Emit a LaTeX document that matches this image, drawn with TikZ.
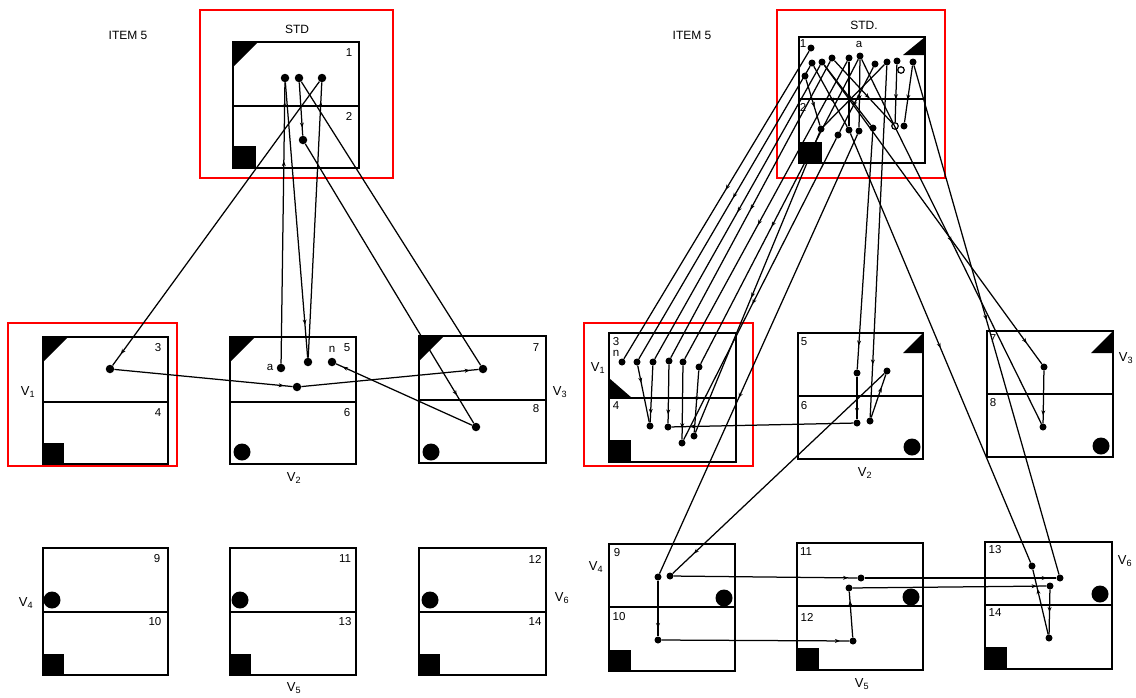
\documentclass[tikz,border=0pt]{standalone}
\usepackage{fontspec}
\setmainfont{Liberation Sans}
\usetikzlibrary{arrows.meta,decorations.markings}
\newcommand\cellbox[5]{\draw[boxline] (#1,#2) rectangle (#3,#4); \draw[boxline] (#1,#5) -- (#3,#5);}
\begin{document}
\begin{tikzpicture}[x=1pt,y=-1pt,
 boxline/.style={line width=1.5pt},
 frame/.style={draw=red,line width=1.6pt},
 dot/.style={circle,fill,inner sep=0pt,minimum size=8.5pt},
 sdot/.style={circle,fill,inner sep=0pt,minimum size=7pt},
 odot/.style={circle,draw,fill=white,line width=1.2pt,inner sep=0pt,minimum size=6.5pt},
 lbl/.style={inner sep=0pt,font=\fontsize{11.5}{13}\selectfont},
 vlb/.style={inner sep=0pt,font=\fontsize{13}{15}\selectfont},
 ttl/.style={inner sep=0pt,font=\fontsize{12}{14}\selectfont},
 ln/.style={line width=1.25pt},
 mk/.style={decoration={markings,mark=at position #1 with {\arrow{Stealth[length=5pt,width=4pt]}}},postaction={decorate}},
 mkk/.style 2 args={decoration={markings,mark=at position #1 with {\arrow{Stealth[length=5pt,width=4pt]}},mark=at position #2 with {\arrow{Stealth[length=5pt,width=4pt]}}},postaction={decorate}}
]
\useasboundingbox (0,0) rectangle (1136,697);
\fill[white] (0,0) rectangle (1136,697);

%================ LEFT PANEL ================
\node[ttl] (item1) at (128,35) {ITEM 5};
\draw[frame] (200,10) rectangle (393,178);
\node[ttl] (stdl) at (297,29) {STD};
\cellbox{233}{42}{359}{168}{106}
\fill (233,42) -- (258,42) -- (233,67) -- cycle;
\fill (233,146) rectangle (256,168);
\node[lbl] (l1) at (349,53) {1};
\node[lbl] (l2) at (349,116) {2};

% V1
\draw[frame] (8,323) rectangle (177,466);
\cellbox{43}{337}{168}{464}{402}
\fill (43,337) -- (68,337) -- (43,362) -- cycle;
\fill (43,443) rectangle (64,464);
\node[lbl] (l3) at (158,348) {3};
\node[lbl] (l4) at (158,413) {4};
\node[vlb] (lv1) at (28,392) {V\textsubscript{1}};
% V2
\cellbox{230}{337}{356}{464}{402}
\fill (230,337) -- (255,337) -- (230,362) -- cycle;
\fill (242,452) circle[radius=8.5pt];
\node[lbl] (l5) at (347,348) {5};
\node[lbl] (l6) at (347,413) {6};
\node[lbl] (la) at (270,367) {a};
\node[lbl] (ln1) at (332,349) {n};
\node[vlb] (lv2) at (294,478) {V\textsubscript{2}};
% V3
\cellbox{419}{336}{546}{463}{400}
\fill (419,336) -- (444,336) -- (419,361) -- cycle;
\fill (431,452) circle[radius=8.5pt];
\node[lbl] (l7) at (536,348) {7};
\node[lbl] (l8) at (536,409) {8};
\node[vlb] (lv3) at (560,392) {V\textsubscript{3}};
% V4
\cellbox{43}{548}{168}{675}{612}
\fill (52,600) circle[radius=8.5pt];
\fill (43,654) rectangle (64,675);
\node[lbl] (l9) at (157,559) {9};
\node[lbl] (l10) at (155,622) {10};
\node[vlb] (lv4) at (26,603) {V\textsubscript{4}};
% V5
\cellbox{230}{548}{356}{675}{612}
\fill (240,600) circle[radius=8.5pt];
\fill (230,654) rectangle (251,675);
\node[lbl] (l11) at (345,559) {11};
\node[lbl] (l13) at (345,622) {13};
\node[vlb] (lv5) at (294,688) {V\textsubscript{5}};
% V6
\cellbox{419}{548}{546}{675}{612}
\fill (430,600) circle[radius=8.5pt];
\fill (419,654) rectangle (440,675);
\node[lbl] (l12) at (535,559) {12};
\node[lbl] (l14) at (535,622) {14};
\node[vlb] (lv6) at (562,598) {V\textsubscript{6}};

% dots
\node[dot] (L1) at (285,78) {};
\node[dot] (L2) at (299,78) {};
\node[dot] (L3) at (322,78) {};
\node[dot] (L4) at (303,140) {};
\node[dot] (P1) at (110,369) {};
\node[dot] (Pa) at (281,368) {};
\node[dot] (Pm) at (308,362) {};
\node[dot] (Pn) at (332,362) {};
\node[dot] (Pl) at (297,387) {};
\node[dot] (Q7) at (483,369) {};
\node[dot] (Q8) at (476,427) {};

% connectors
\draw[ln,mkk={0.72}{0.93}] (Pa) -- (L1);
\draw[ln,mk=0.88] (L1) -- (Pm);
\draw[ln,mk=0.93] (Pm) -- (L3);
\draw[ln,mk=0.96] (L3) -- (P1);
\draw[ln,mk=0.95] (P1) -- (Pl);
\draw[ln,mk=0.95] (Pl) -- (Q7);
\draw[ln] (Q7) -- (L2);
\draw[ln,mk=0.85] (L2) -- (L4);
\draw[ln,mk=0.9] (L4) -- (Q8);
\draw[ln,mk=0.95] (Q8) -- (Pn);

%================ RIGHT PANEL ================
\node[ttl] (item2) at (692,35) {ITEM 5};
\draw[frame] (777,10) rectangle (945,178);
\node[ttl] (stdr) at (864,25) {STD.};
\cellbox{799}{37}{925}{163}{99}
\fill (925,37) -- (925,55) -- (903,55) -- cycle;
\fill (799,142) rectangle (822,163);
\node[lbl] (r1) at (803,44) {1};
\node[lbl] (ra) at (859,44) {a};
\node[lbl] (r2) at (803,107) {2};

% V1
\draw[frame] (584,323) rectangle (753,466);
\cellbox{609}{333}{736}{462}{398}
\fill (609,378) -- (609,398) -- (632,398) -- cycle;
\fill (609,440) rectangle (631,462);
\node[lbl] (r3) at (616,342) {3};
\node[lbl] (rn) at (616,353) {n};
\node[lbl] (r4) at (616,406) {4};
\node[vlb] (rv1) at (598,368) {V\textsubscript{1}};
% V2
\cellbox{798}{333}{923}{459}{396}
\fill (923,333) -- (923,353) -- (903,353) -- cycle;
\fill (912,447) circle[radius=8.5pt];
\node[lbl] (r5) at (804,342) {5};
\node[lbl] (r6) at (804,406) {6};
\node[vlb] (rv2) at (865,473) {V\textsubscript{2}};
% V3
\cellbox{987}{331}{1113}{457}{394}
\fill (1113,331) -- (1113,353) -- (1091,353) -- cycle;
\fill (1101,446) circle[radius=8.5pt];
\node[lbl] (r7) at (993,339) {7};
\node[lbl] (r8) at (993,403) {8};
\node[vlb] (rv3) at (1126,358) {V\textsubscript{3}};
% V4
\cellbox{609}{544}{735}{671}{607}
\fill (724,598) circle[radius=8.5pt];
\fill (609,650) rectangle (631,671);
\node[lbl] (r9) at (617,553) {9};
\node[lbl] (r10) at (619,617) {10};
\node[vlb] (rv4) at (596,567) {V\textsubscript{4}};
% V5
\cellbox{797}{543}{923}{670}{606}
\fill (911,597) circle[radius=8.5pt];
\fill (797,648) rectangle (819,670);
\node[lbl] (r11) at (806,552) {11};
\node[lbl] (r12) at (807,617) {12};
\node[vlb] (rv5) at (862,684) {V\textsubscript{5}};
% V6
\cellbox{985}{542}{1112}{669}{605}
\fill (1100,594) circle[radius=8.5pt];
\fill (985,647) rectangle (1007,669);
\node[lbl] (r13) at (995,550) {13};
\node[lbl] (r14) at (995,613) {14};
\node[vlb] (rv6) at (1125,561) {V\textsubscript{6}};

% STD dots
\node[sdot] (s1) at (811,48) {};
\node[sdot] (s2) at (812,63) {};
\node[sdot] (s3) at (822,62) {};
\node[sdot] (s4) at (832,58) {};
\node[sdot] (s5) at (849,58) {};
\node[sdot] (s6) at (860,56) {};
\node[sdot] (s7) at (875,64) {};
\node[sdot] (s8) at (887,62) {};
\node[sdot] (s9) at (897,61) {};
\node[sdot] (s10) at (913,62) {};
\node[sdot] (s11) at (805,76) {};
\node[sdot] (t1) at (821,129) {};
\node[sdot] (t2) at (838,135) {};
\node[sdot] (t3) at (849,130) {};
\node[sdot] (t4) at (859,131) {};
\node[sdot] (t5) at (873,128) {};
\node[sdot] (t7) at (904,126) {};
% V dots
\node[sdot] (A) at (622,362) {};
\node[sdot] (B) at (637,362) {};
\node[sdot] (C) at (653,362) {};
\node[sdot] (D) at (669,361) {};
\node[sdot] (E) at (683,362) {};
\node[sdot] (F) at (699,367) {};
\node[sdot] (G) at (650,426) {};
\node[sdot] (H) at (668,427) {};
\node[sdot] (I) at (682,443) {};
\node[sdot] (J) at (694,436) {};
\node[sdot] (K5) at (857,373) {};
\node[sdot] (K5b) at (887,371) {};
\node[sdot] (K6) at (857,423) {};
\node[sdot] (K6b) at (870,421) {};
\node[sdot] (M7) at (1044,367) {};
\node[sdot] (M8) at (1043,427) {};
\node[sdot] (N1) at (658,577) {};
\node[sdot] (N2) at (670,576) {};
\node[sdot] (N3) at (658,640) {};
\node[sdot] (O1) at (861,578) {};
\node[sdot] (O2) at (849,588) {};
\node[sdot] (O3) at (853,641) {};
\node[sdot] (R1) at (1032,566) {};
\node[sdot] (R2) at (1060,578) {};
\node[sdot] (R3) at (1050,586) {};
\node[sdot] (R4) at (1049,638) {};

% STD internal connectors
\draw[ln,mk=0.6] (s11) -- (t1);
\draw[ln,mk=0.6] (s2) -- (t3);
\draw[ln,mk=0.6] (s3) -- (t5);
\draw[ln,mk=0.6] (s5) -- (t3);
\draw[ln,mk=0.6] (s6) -- (t4);
\draw[ln,mk=0.6] (s7) -- (t2);
\draw[ln,mk=0.6] (s8) -- (t1);
\draw[ln,mk=0.6] (s10) -- (t7);
\node[odot] (t6) at (895,126) {};
\node[odot] (s12) at (901,70) {};
\draw[ln,mk=0.6] (s4) -- (t6);
\draw[ln,mk=0.6] (s9) -- (t6);

% STD to V1
\draw[ln,mk=0.45] (s1) -- (A);
\draw[ln,mk=0.45] (s2) -- (B);
\draw[ln,mk=0.5] (s3) -- (C);
\draw[ln,mk=0.5] (s4) -- (D);
\draw[ln,mk=0.55] (s5) -- (E);
\draw[ln,mk=0.55] (s6) -- (F);
\draw[ln,mk=0.55] (t1) -- (J);
\draw[ln,mk=0.55] (t2) -- (I);
% inside V1
\draw[ln,mk=0.3] (B) -- (G);
\draw[ln,mk=0.85] (C) -- (G);
\draw[ln,mk=0.85] (D) -- (H);
\draw[ln,mk=0.85] (E) -- (I);
\draw[ln,mk=0.5] (F) -- (J);
\draw[ln,mk=0.9] (K6) -- (H);
% STD to V2
\draw[ln,mk=0.9] (t5) -- (K5);
\draw[ln,mk=0.85] (s8) -- (K6b);
\draw[ln,mk=0.85] (K5) -- (K6);
\draw[ln,mk=0.7] (K6b) -- (K5b);
\draw[ln,mk=0.9] (K5b) -- (N2);
% STD to V3
\draw[ln,mk=0.93] (s3) -- (M7);
\draw[ln,mk=0.5] (s6) -- (M8);
\draw[ln,mk=0.85] (M7) -- (M8);
% STD to V4, V6
\draw[ln,mk=0.6] (t4) -- (N1);
\draw[ln,mk=0.5] (t3) -- (R1);
\draw[ln,mk=0.5] (s10) -- (R2);
% bottom chain
\draw[ln,mk=0.85] (N1) -- (N3);
\draw[ln,mk=0.95] (N3) -- (O3);
\draw[ln,mk=0.8] (O3) -- (O2);
\draw[ln,mk=0.95] (O2) -- (R3);
\draw[ln,mk=0.5] (R3) -- (R4);
\draw[ln,mk=0.7] (R4) -- (R1);
\draw[ln,mk=0.95] (N2) -- (O1);
\draw[ln,mk=0.95] (O1) -- (R2);
\end{tikzpicture}
\end{document}
